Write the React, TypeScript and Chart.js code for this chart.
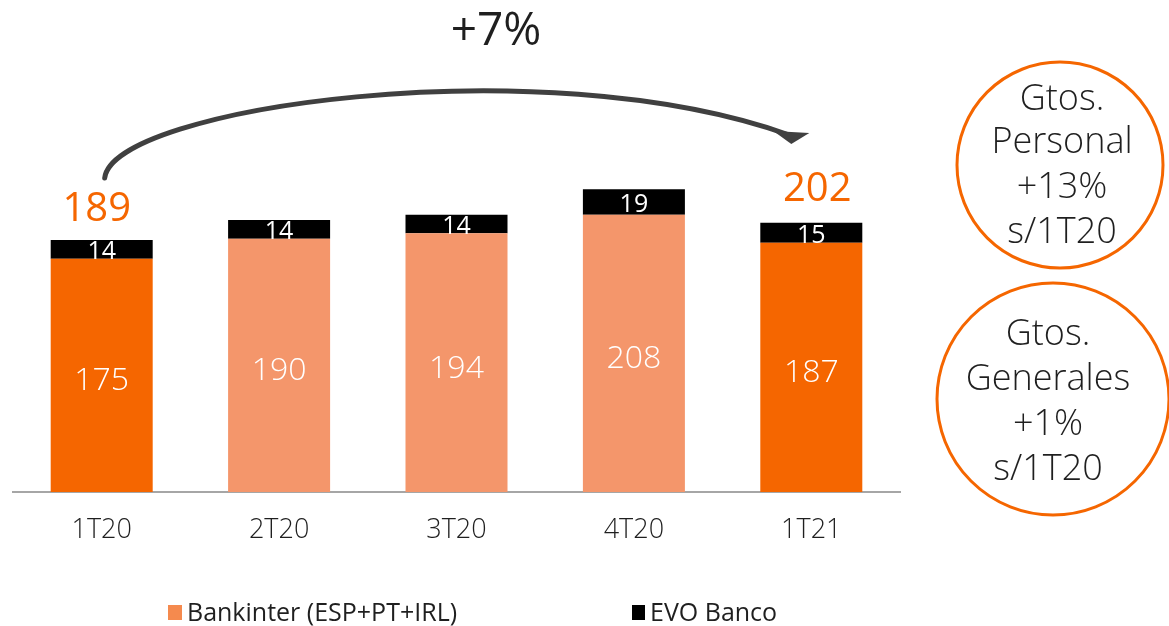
import React, { useEffect, useRef } from "react";
import { Chart, registerables } from "chart.js";

Chart.register(...registerables);

const categories = ["1T20", "2T20", "3T20", "4T20", "1T21"];
const bankinter = [175, 190, 194, 208, 187];
const evo = [14, 14, 14, 19, 15];
const totalsShown = [189, null, null, null, 202];
const growthLabel = "+7%";
const circle1Lines = ["Gtos.", "Personal", "+13%", "s/1T20"];
const circle2Lines = ["Gtos.", "Generales", "+1%", "s/1T20"];
const legendLabels = ["Bankinter (ESP+PT+IRL)", "EVO Banco"];

const DARK_ORANGE = "#F56600";
const LIGHT_ORANGE = "#F4966B";
const LEGEND_ORANGE = "#F58A4E";
const TEXT = "#1f1f1f";
const FONT = "'Open Sans', sans-serif";

const barColors = categories.map((_, i) =>
  i === 0 || i === categories.length - 1 ? DARK_ORANGE : LIGHT_ORANGE
);

const overlay = {
  id: "overlay",
  afterDatasetsDraw(chart: any) {
    const ctx = chart.ctx;
    const m0 = chart.getDatasetMeta(0);
    const m1 = chart.getDatasetMeta(1);
    ctx.save();
    ctx.textAlign = "center";
    ctx.textBaseline = "middle";
    // inside labels
    m0.data.forEach((bar: any, i: number) => {
      ctx.fillStyle = "#ffffff";
      ctx.font = `300 32px ${FONT}`;
      ctx.fillText(String(bankinter[i]), bar.x, (bar.y + bar.base) / 2 + 6);
    });
    m1.data.forEach((bar: any, i: number) => {
      ctx.fillStyle = "#ffffff";
      ctx.font = `25px ${FONT}`;
      ctx.fillText(String(evo[i]), bar.x, (bar.y + bar.base) / 2 + 3);
      const t = totalsShown[i];
      if (t != null) {
        ctx.fillStyle = DARK_ORANGE;
        ctx.font = `40px ${FONT}`;
        ctx.fillText(String(t), bar.x - (i === 0 ? 5 : -6), bar.y - (i === 0 ? 30 : 33));
      }
    });

    // arrow
    const first = m1.data[0];
    const last = m1.data[m1.data.length - 1];
    const sx = first.x + 3;
    const sy = 178;
    const ex = last.x - 22;
    const ey = 135;
    ctx.strokeStyle = "#404040";
    ctx.lineWidth = 5;
    ctx.lineCap = "round";
    ctx.beginPath();
    ctx.moveTo(sx, sy);
    ctx.bezierCurveTo(sx + 8, 108, 540, 46, ex, ey);
    ctx.stroke();
    ctx.fillStyle = "#404040";
    ctx.beginPath();
    ctx.moveTo(ex - 16, ey - 4);
    ctx.lineTo(ex + 20, ey - 2);
    ctx.lineTo(ex + 2, ey + 9);
    ctx.closePath();
    ctx.fill();

    // +7%
    ctx.fillStyle = TEXT;
    ctx.font = `500 46px ${FONT}`;
    ctx.fillText(growthLabel, 496, 32);

    // circles
    const drawCircle = (cx: number, cy: number, r: number, lines: string[], tx: number, ys: number[]) => {
      ctx.strokeStyle = DARK_ORANGE;
      ctx.lineWidth = 3;
      ctx.beginPath();
      ctx.arc(cx, cy, r, 0, Math.PI * 2);
      ctx.stroke();
      ctx.fillStyle = TEXT;
      ctx.font = `300 36px ${FONT}`;
      lines.forEach((l, k) => ctx.fillText(l, tx, ys[k]));
    };
    drawCircle(1060, 165, 103, circle1Lines, 1062, [100, 143, 188, 233]);
    drawCircle(1053, 399, 116, circle2Lines, 1048, [335, 380, 425, 470]);

    // legend
    ctx.textAlign = "left";
    ctx.font = `25px ${FONT}`;
    ctx.fillStyle = LEGEND_ORANGE;
    ctx.fillRect(168, 605, 14, 15);
    ctx.fillStyle = TEXT;
    ctx.fillText(legendLabels[0], 187, 614);
    ctx.fillStyle = "#000";
    ctx.fillRect(632, 605, 13, 15);
    ctx.fillStyle = TEXT;
    ctx.fillText(legendLabels[1], 650, 614);
    ctx.restore();
  },
};

export default function App() {
  const ref = useRef<HTMLCanvasElement>(null);
  useEffect(() => {
    if (!ref.current) return;
    const chart = new Chart(ref.current, {
      type: "bar",
      data: {
        labels: categories,
        datasets: [
          { label: legendLabels[0], data: bankinter, backgroundColor: barColors, stack: "s" },
          { label: legendLabels[1], data: evo, backgroundColor: "#000000", stack: "s" },
        ],
      },
      options: {
        responsive: false,
        animation: false,
        layout: { padding: { left: 13, right: 269, top: 92, bottom: 0 } },
        plugins: { legend: { display: false }, tooltip: { enabled: false } },
        scales: {
          x: {
            stacked: true,
            grid: { display: false },
            border: { display: true, color: "#a6a6a6", width: 2 },
            ticks: { color: TEXT, font: { family: "Open Sans", size: 27, weight: "300" }, padding: 14 },
            afterFit: (scale: any) => {
              scale.height = 134;
            },
          },
          y: { stacked: true, display: false, min: 0, max: 300 },
        },
        datasets: { bar: { categoryPercentage: 1, barPercentage: 0.575 } },
      } as any,
      plugins: [overlay],
    });
    return () => chart.destroy();
  }, []);
  return (
    <div style={{ position: "fixed", left: 0, top: 0, width: 1169, height: 626, background: "#fff" }}>
      <canvas ref={ref} width={1169} height={626} />
    </div>
  );
}
